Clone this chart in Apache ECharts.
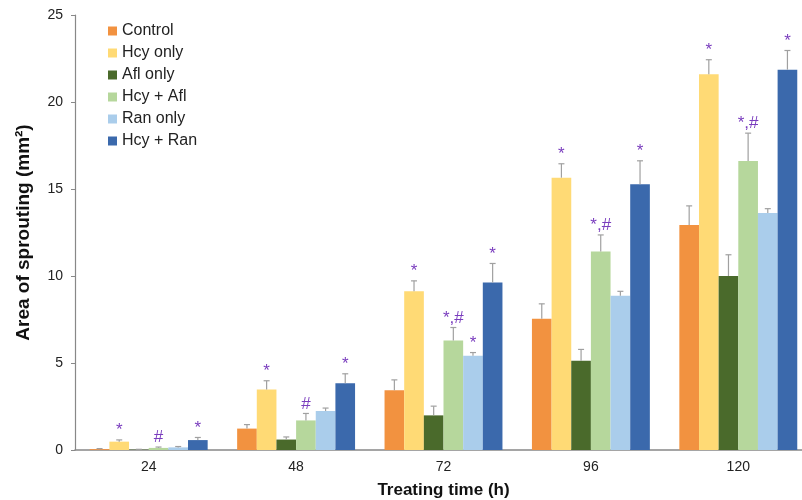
<!DOCTYPE html>
<html>
<head>
<meta charset="utf-8">
<script src="https://cdn.jsdelivr.net/npm/echarts@6/dist/echarts.min.js"></script>
<style>
    html, body {margin: 0; padding: 0; background: #fff;}
    #chart {width: 802px; height: 500px;}
</style>
</head>
<body>
<div id="chart"></div>
<script>
const categories = ['24', '48', '72', '96', '120'];
const seriesNames = ['Control', 'Hcy only', 'Afl only', 'Hcy + Afl', 'Ran only', 'Hcy + Ran'];
const colors = ['#F29240', '#FFDA75', '#4A6A2B', '#B6D79C', '#AACDEB', '#3B69AC'];

const control = [0.05, 1.23, 3.43, 7.55, 12.93];
const hcyOnly = [0.48, 3.48, 9.12, 15.65, 21.6];
const aflOnly = [0.02, 0.6, 1.99, 5.13, 10.0];
const hcyAfl = [0.12, 1.7, 6.29, 11.41, 16.61];
const ranOnly = [0.15, 2.24, 5.42, 8.87, 13.62];
const hcyRan = [0.57, 3.83, 9.62, 15.27, 21.86];

const controlErr = [0.03, 0.23, 0.6, 0.85, 1.1];
const hcyOnlyErr = [0.1, 0.5, 0.6, 0.8, 0.83];
const aflOnlyErr = [0.02, 0.15, 0.53, 0.65, 1.22];
const hcyAflErr = [0.05, 0.4, 0.75, 0.95, 1.6];
const ranOnlyErr = [0.05, 0.17, 0.18, 0.25, 0.25];
const hcyRanErr = [0.15, 0.55, 1.1, 1.35, 1.1];

// significance marks above the error bars
const controlMark = ['', '', '', '', ''];
const hcyOnlyMark = ['*', '*', '*', '*', '*'];
const aflOnlyMark = ['', '', '', '', ''];
const hcyAflMark = ['#', '#', '*,#', '*,#', '*,#'];
const ranOnlyMark = ['', '', '*', '', ''];
const hcyRanMark = ['*', '*', '*', '*', '*'];

const yTicks = [0, 5, 10, 15, 20, 25];

const values = [control, hcyOnly, aflOnly, hcyAfl, ranOnly, hcyRan];
const errors = [controlErr, hcyOnlyErr, aflOnlyErr, hcyAflErr, ranOnlyErr, hcyRanErr];
const marks = [controlMark, hcyOnlyMark, aflOnlyMark, hcyAflMark, ranOnlyMark, hcyRanMark];

const groupShare = 0.8; // barCategoryGap 20%
const nSeries = seriesNames.length;

const errData = [];
values.forEach(function (vals, s) {
    vals.forEach(function (v, c) {
        errData.push([c, v, errors[s][c], s, marks[s][c]]);
    });
});

function renderErr(params, api) {
    const c = api.value(0);
    const v = api.value(1);
    const e = api.value(2);
    const s = api.value(3);
    const mark = errData[params.dataIndex][4];
    const catW = api.size([1, 0])[0];
    const barW = catW * groupShare / nSeries;
    const base = api.coord([c, v]);
    const top = api.coord([c, v + e]);
    const x = base[0] - catW * groupShare / 2 + barW * (s + 0.5);
    const children = [
        {type: 'line', shape: {x1: x, y1: base[1], x2: x, y2: top[1]}, style: {stroke: '#a0a0a0', lineWidth: 1.2}},
        {type: 'line', shape: {x1: x - 3, y1: top[1], x2: x + 3, y2: top[1]}, style: {stroke: '#a0a0a0', lineWidth: 1.2}}
    ];
    if (mark) {
        children.push({
            type: 'text',
            style: {
                text: mark, x: x, y: top[1] - 1,
                align: 'center', verticalAlign: 'bottom',
                fill: '#7A3DBE', font: '17px "Liberation Sans", Arial, sans-serif'
            }
        });
    }
    return {type: 'group', children: children};
}

const barSeries = seriesNames.map(function (name, i) {
    return {
        name: name,
        type: 'bar',
        data: values[i],
        barGap: 0,
        barCategoryGap: '20%',
        itemStyle: {color: colors[i]}
    };
});

const option = {
    animation: false,
    backgroundColor: '#fff',
    color: colors,
    textStyle: {fontFamily: '"Liberation Sans", Arial, sans-serif'},
    legend: {
        orient: 'vertical',
        left: 103,
        top: 18,
        icon: 'rect',
        itemWidth: 9,
        itemHeight: 9,
        itemGap: 6,
        data: seriesNames,
        textStyle: {fontSize: 16, color: '#222', lineHeight: 16}
    },
    grid: {left: 75, width: 737, top: 15, bottom: 50, outerBoundsMode: 'none', containLabel: false},
    xAxis: {
        type: 'category',
        data: categories,
        name: 'Treating time (h)',
        nameLocation: 'middle',
        nameGap: 32,
        nameTextStyle: {fontSize: 17, fontWeight: 'bold', color: '#111'},
        axisLine: {lineStyle: {color: '#888', width: 1.5}},
        axisTick: {show: false},
        axisLabel: {fontSize: 14, color: '#222', margin: 10}
    },
    yAxis: {
        type: 'value',
        min: 0,
        max: 25,
        interval: 5,
        name: 'Area of sprouting (mm²)',
        nameLocation: 'middle',
        nameGap: 42,
        nameTextStyle: {fontSize: 19, fontWeight: 'bold', color: '#111'},
        axisLine: {show: true, lineStyle: {color: '#888', width: 1.2}},
        axisTick: {show: true, length: 4, lineStyle: {color: '#888'}},
        splitLine: {show: false},
        axisLabel: {
            fontSize: 14, color: '#222', margin: 12,
            formatter: function (v) { return yTicks.indexOf(v) >= 0 ? String(v) : ''; }
        }
    },
    series: barSeries.concat([{
        type: 'custom',
        name: 'errors',
        renderItem: renderErr,
        data: errData,
        encode: {x: 0, y: 1},
        z: 5,
        silent: true
    }])
};

const myChart = echarts.init(document.getElementById('chart'));
myChart.setOption(option);
</script>
</body>
</html>
